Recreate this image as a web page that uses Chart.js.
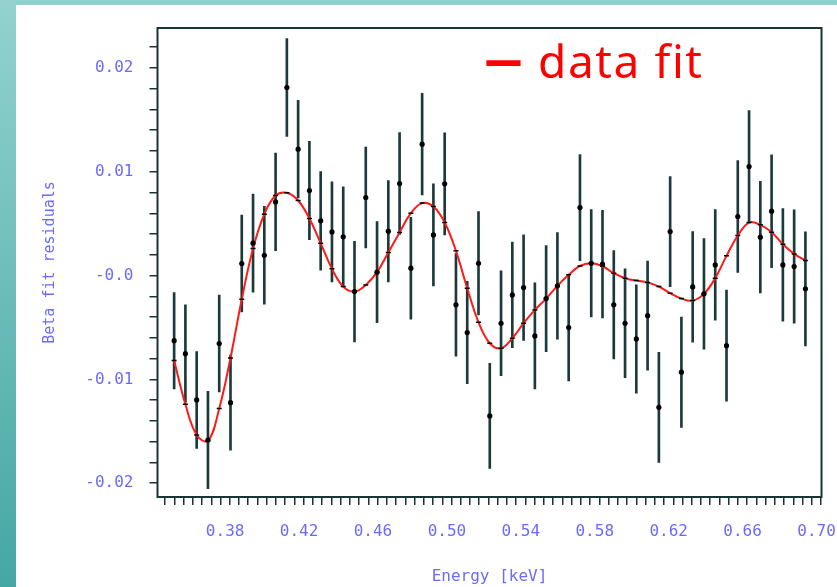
<!DOCTYPE html>
<html>
<head>
<meta charset="utf-8">
<script src="https://cdn.jsdelivr.net/npm/chart.js@4.4.1/dist/chart.umd.min.js"></script>
<style>
  html, body { margin: 0; padding: 0; background: #fff; }
  #page { position: relative; width: 837px; height: 587px; overflow: hidden; background: #fff; }
  #topband { position: absolute; left: 0; top: 0; width: 837px; height: 5px; background: #8fcfcd; }
  #leftband { position: absolute; left: 0; top: 0; width: 16px; height: 587px; background: linear-gradient(#93d2cf, #45a7a4); }
  #myChart { position: absolute; left: 0; top: 0; }
  #fitDash { position: absolute; left: 485px; top: 38px; color: #ff0000; font-family: "Noto Sans", sans-serif;
             font-size: 37px; line-height: 37px; font-weight: bold; transform: scaleY(1.4); }
  #fitLabel { position: absolute; left: 538px; top: 37px; color: #ff0000; font-family: "Comic Sans MS", "Noto Sans", sans-serif;
              font-size: 46px; line-height: 46px; letter-spacing: 1.6px; white-space: nowrap; }
</style>
</head>
<body>
<div id="page">
  <div id="topband"></div>
  <div id="leftband"></div>
  <canvas id="myChart" width="837" height="587"></canvas>
  <div id="fitDash">—</div>
  <div id="fitLabel">data fit</div>
</div>
<script>
// energy bins [keV]
const energy = [
  0.3524, 0.3585, 0.3646, 0.3707, 0.3768, 0.3829, 0.3890, 0.3951, 0.4012, 0.4073,
  0.4134, 0.4195, 0.4256, 0.4317, 0.4378, 0.4439, 0.4500, 0.4561, 0.4622, 0.4683,
  0.4744, 0.4805, 0.4866, 0.4927, 0.4988, 0.5049, 0.5110, 0.5171, 0.5232, 0.5293,
  0.5354, 0.5415, 0.5476, 0.5537, 0.5598, 0.5659, 0.5720, 0.5781, 0.5842, 0.5903,
  0.5964, 0.6025, 0.6086, 0.6147, 0.6208, 0.6269, 0.6330, 0.6391, 0.6452, 0.6513,
  0.6574, 0.6635, 0.6696, 0.6757, 0.6818, 0.6879, 0.6940
];

// measured residuals
const residual = [
  -0.00627, -0.00752, -0.01198, -0.01584, -0.00655, -0.01224, 0.00116, 0.00312, 0.00196, 0.00710,
  0.01812, 0.01218, 0.00819, 0.00527, 0.00421, 0.00373, -0.00154, 0.00752, 0.00033, 0.00428,
  0.00887, 0.00071, 0.01266, 0.00392, 0.00884, -0.00282, -0.00549, 0.00119, -0.01352, -0.00459,
  -0.00186, -0.00116, -0.00581, -0.00222, -0.00099, -0.00501, 0.00655, 0.00119, 0.00110, -0.00282,
  -0.00459, -0.00610, -0.00386, -0.01269, 0.00424, -0.00931, -0.00109, -0.00176, 0.00103, -0.00675,
  0.00569, 0.01051, 0.00370, 0.00620, 0.00103, 0.00087, -0.00128
];

// 1 sigma errors
const residualErr = [
  0.00464, 0.00470, 0.00466, 0.00469, 0.00466, 0.00458, 0.00466, 0.00472, 0.00471, 0.00471,
  0.00471, 0.00471, 0.00474, 0.00474, 0.00482, 0.00482, 0.00485, 0.00485, 0.00487, 0.00488,
  0.00490, 0.00490, 0.00490, 0.00492, 0.00492, 0.00495, 0.00493, 0.00498, 0.00506, 0.00504,
  0.00508, 0.00509, 0.00511, 0.00511, 0.00514, 0.00514, 0.00511, 0.00517, 0.00519, 0.00522,
  0.00525, 0.00522, 0.00525, 0.00530, 0.00530, 0.00532, 0.00533, 0.00533, 0.00533, 0.00535,
  0.00538, 0.00538, 0.00538, 0.00543, 0.00543, 0.00546, 0.00549
];

// fitted model at each bin
const fitModel = [
  -0.00819, -0.01240, -0.01535, -0.01592, -0.01280, -0.00793, -0.00228, 0.00260, 0.00592, 0.00771,
  0.00797, 0.00723, 0.00549, 0.00312, 0.00065, -0.00106, -0.00154, -0.00090, 0.00033, 0.00222,
  0.00415, 0.00601, 0.00698, 0.00665, 0.00511, 0.00238, -0.00122, -0.00449, -0.00652, -0.00700,
  -0.00604, -0.00459, -0.00331, -0.00222, -0.00099, 0.00007, 0.00093, 0.00119, 0.00090, 0.00023,
  -0.00025, -0.00048, -0.00067, -0.00106, -0.00170, -0.00222, -0.00241, -0.00176, -0.00025, 0.00190,
  0.00386, 0.00511, 0.00489, 0.00418, 0.00302, 0.00209, 0.00145
];

const xLabelTicks = [0.38, 0.42, 0.46, 0.50, 0.54, 0.58, 0.62, 0.66, 0.70];
const xLabelText = ['0.38', '0.42', '0.46', '0.50', '0.54', '0.58', '0.62', '0.66', '0.70'];
const yLabelTicks = [0.02, 0.01, 0, -0.01, -0.02];
const yLabelText = ['0.02', '0.01', '-0.0', '-0.01', '-0.02'];

const axisColor = '#173535';
const labelColor = '#6a6aff';
const monoFont = { family: 'DejaVu Sans Mono', size: 16 };

function labelFor(value, ticks, texts) {
  const i = ticks.findIndex(t => Math.abs(t - value) < 1e-6);
  return i >= 0 ? texts[i] : '';
}

// box around the plot area
const framePlugin = {
  id: 'frame',
  beforeDatasetsDraw(chart) {
    const { ctx, chartArea: a } = chart;
    ctx.save();
    ctx.strokeStyle = axisColor;
    ctx.lineWidth = 2;
    ctx.strokeRect(a.left, a.top, a.right - a.left, a.bottom - a.top);
    ctx.restore();
  }
};

function buildGraph() {
  const ctx = document.getElementById('myChart');

  const errorBars = energy.map((e, i) => ({ x: e, y: [residual[i] - residualErr[i], residual[i] + residualErr[i]] }));
  const points = energy.map((e, i) => ({ x: e, y: residual[i] }));
  const model = energy.map((e, i) => ({ x: e, y: fitModel[i] }));

  new Chart(ctx, {
    type: 'scatter',
    data: {
      datasets: [
        {
          type: 'scatter',
          label: 'data',
          data: points,
          pointStyle: 'circle',
          pointRadius: 2.6,
          backgroundColor: '#000',
          borderColor: '#000',
          borderWidth: 0,
          order: 0
        },
        {
          type: 'line',
          label: 'fit',
          data: model,
          borderColor: '#ff1a1a',
          borderWidth: 2,
          tension: 0.4,
          fill: false,
          pointStyle: 'line',
          pointRadius: 2.5,
          pointBorderColor: '#000',
          pointBorderWidth: 1.5,
          order: 1
        },
        {
          type: 'bar',
          label: 'errors',
          data: errorBars,
          backgroundColor: '#1c3a3a',
          barThickness: 2,
          order: 2
        }
      ]
    },
    options: {
      responsive: false,
      animation: false,
      devicePixelRatio: 1,
      layout: { padding: { top: 28, right: 15.5, bottom: 0, left: 0 } },
      plugins: {
        legend: { display: false },
        tooltip: { enabled: false }
      },
      scales: {
        x: {
          type: 'linear',
          min: 0.3434,
          max: 0.7027,
          offset: false,
          afterFit: scale => {
            scale.height = 90;
            scale.paddingLeft = 0;
            scale.paddingRight = 0;
          },
          border: { display: false },
          grid: { drawOnChartArea: false, drawTicks: true, tickLength: 8, color: axisColor, lineWidth: 1.5 },
          ticks: {
            stepSize: 0.005,
            includeBounds: false,
            autoSkip: false,
            maxRotation: 0,
            padding: 17,
            color: labelColor,
            font: monoFont,
            callback: v => labelFor(v, xLabelTicks, xLabelText)
          },
          title: {
            display: true,
            text: 'Energy [keV]',
            color: labelColor,
            font: monoFont,
            padding: { top: 0, bottom: 1 }
          }
        },
        y: {
          type: 'linear',
          min: -0.02133,
          max: 0.02385,
          afterFit: scale => {
            scale.width = 157.5;
            scale.paddingTop = 0;
            scale.paddingBottom = 0;
          },
          border: { display: false },
          grid: { drawOnChartArea: false, drawTicks: true, tickLength: 8, color: axisColor, lineWidth: 1.5 },
          ticks: {
            stepSize: 0.002,
            includeBounds: false,
            autoSkip: false,
            padding: 16,
            color: labelColor,
            font: monoFont,
            callback: v => labelFor(v, yLabelTicks, yLabelText)
          },
          title: {
            display: true,
            text: 'Beta fit residuals',
            color: labelColor,
            font: { family: 'DejaVu Sans Mono', size: 15 },
            padding: { top: 41, bottom: 0 }
          }
        }
      }
    },
    plugins: [framePlugin]
  });
}

window.addEventListener('DOMContentLoaded', () => {
  buildGraph();
});
</script>
</body>
</html>
